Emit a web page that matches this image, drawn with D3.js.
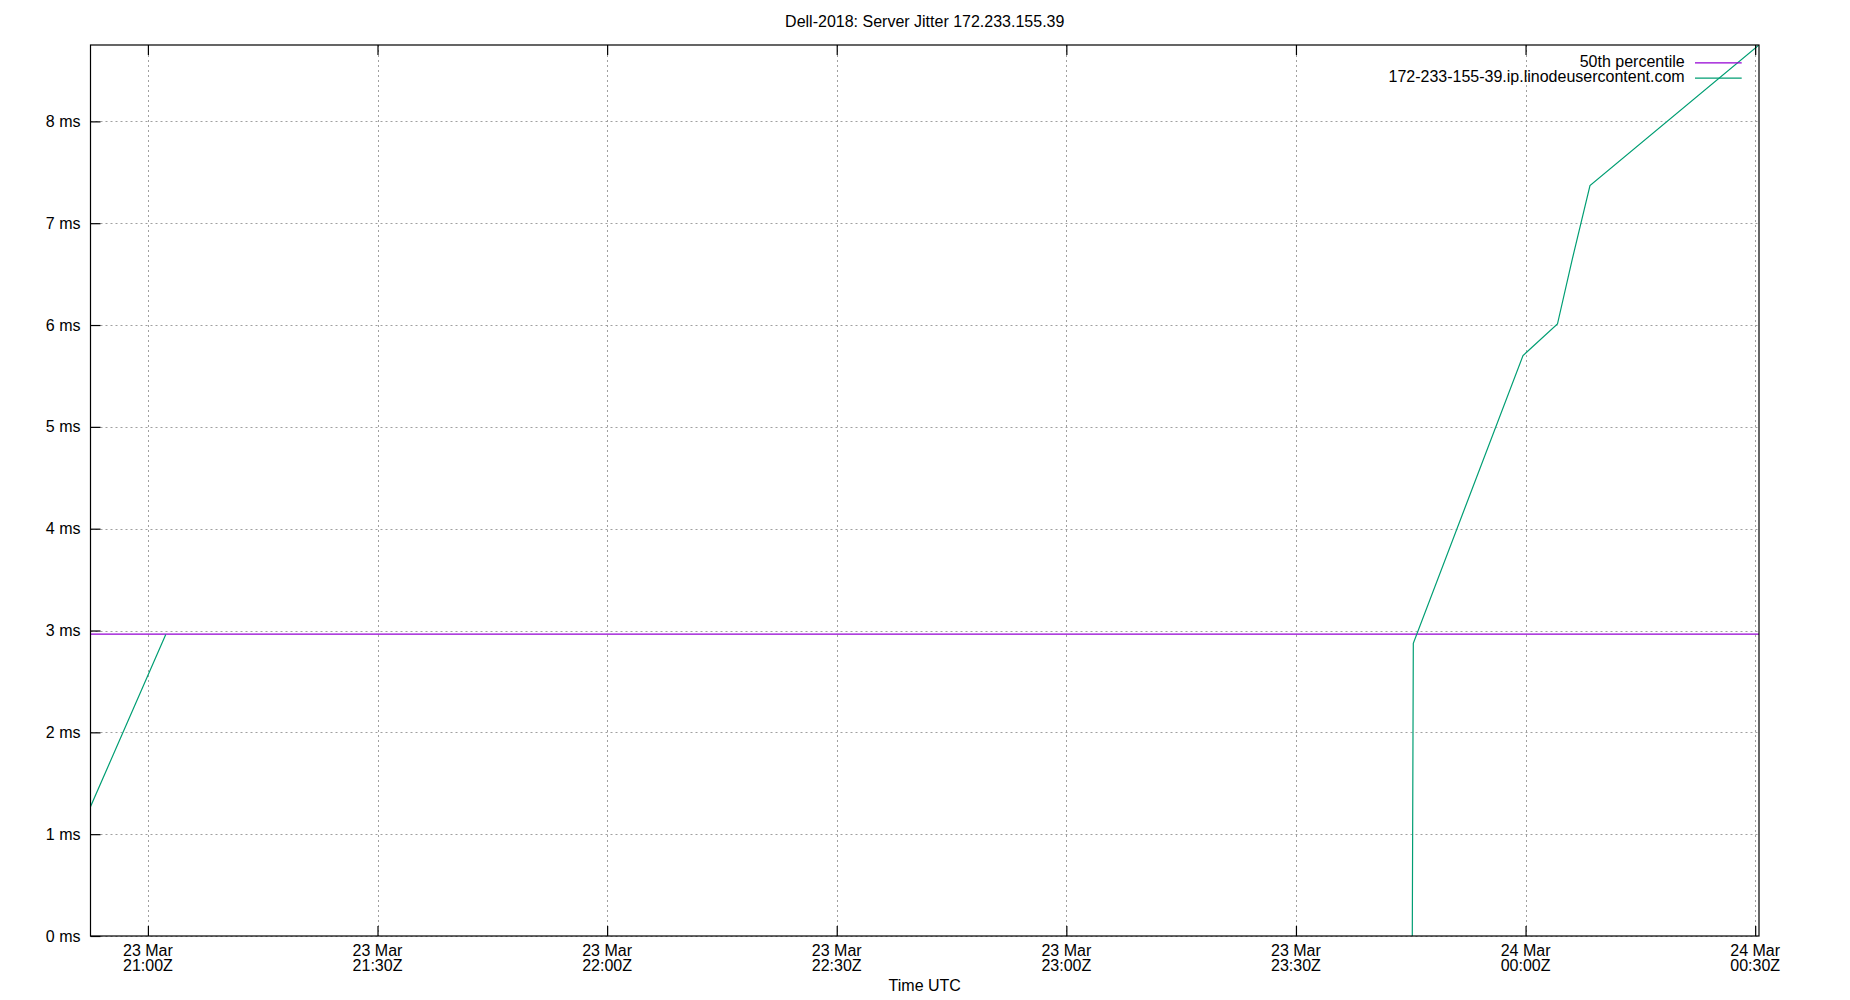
<!DOCTYPE html>
<html lang="en">

<head>
    <meta charset="UTF-8">
    <title>Server Jitter</title>
    <script src="https://d3js.org/d3.v7.min.js"></script>
    <style>
        body { margin: 0; background: #fff; }
        text { font-family: "Liberation Sans", Arial, sans-serif; font-size: 16px; fill: #000; }
    </style>
</head>

<body>
    <div id="my_dataviz"></div>

    <script type="text/javascript">

        // jitter samples (UTC), null = no data
        var sampleTimes = [
            "2024-03-23T20:52:30Z", "2024-03-23T21:02:20Z", "2024-03-23T22:30:00Z",
            "2024-03-23T23:45:12Z", "2024-03-23T23:45:20Z", "2024-03-23T23:59:40Z",
            "2024-03-24T00:04:10Z", "2024-03-24T00:06:05Z", "2024-03-24T00:08:25Z",
            "2024-03-24T00:30:30Z"
        ];
        var jitterMs = [1.27, 2.96, null, 0, 2.875, 5.70, 6.01, 6.64, 7.37, 8.75];

        var percentile50 = 2.965;

        var xTickTimes = [
            "2024-03-23T21:00:00Z", "2024-03-23T21:30:00Z", "2024-03-23T22:00:00Z",
            "2024-03-23T22:30:00Z", "2024-03-23T23:00:00Z", "2024-03-23T23:30:00Z",
            "2024-03-24T00:00:00Z", "2024-03-24T00:30:00Z"
        ];
        var yTicks = [0, 1, 2, 3, 4, 5, 6, 7, 8];

        var seriesNames = ["50th percentile", "172-233-155-39.ip.linodeusercontent.com"];
        var seriesColors = ["#9400d3", "#009e73"];

        var data = sampleTimes.map(function (t, i) { return { t: new Date(t), v: jitterMs[i] }; });
        var tickDates = xTickTimes.map(function (t) { return new Date(t); });

        // plot box (note: "top" is taken by window.top)
        var pLeft = 90.5, pRight = 1759, pTop = 45, pBottom = 936;

        var svg = d3.select("#my_dataviz")
            .append("svg")
            .attr("width", 1850)
            .attr("height", 1000);

        var x = d3.scaleUtc()
            .domain([data[0].t, data[data.length - 1].t])
            .range([pLeft, pRight]);

        var y = d3.scaleLinear()
            .domain([0, 8.75])
            .range([pBottom, pTop]);

        // grid
        var grid = svg.append("g")
            .attr("stroke", "#a0a0a0")
            .attr("stroke-width", 1)
            .attr("stroke-dasharray", "2,3");
        grid.selectAll(".gx").data(tickDates).enter().append("line")
            .attr("x1", function (d) { return Math.round(x(d)) + 0.5; })
            .attr("x2", function (d) { return Math.round(x(d)) + 0.5; })
            .attr("y1", pTop).attr("y2", pBottom);
        grid.selectAll(".gy").data(yTicks).enter().append("line")
            .attr("y1", function (d) { return Math.round(y(d)) + 0.5; })
            .attr("y2", function (d) { return Math.round(y(d)) + 0.5; })
            .attr("x1", pLeft).attr("x2", pRight);

        svg.append("clipPath").attr("id", "plotclip")
            .append("rect")
            .attr("x", pLeft).attr("y", pTop)
            .attr("width", pRight - pLeft).attr("height", pBottom - pTop);

        var plot = svg.append("g").attr("clip-path", "url(#plotclip)");

        // 50th percentile
        plot.append("line")
            .attr("x1", pLeft).attr("x2", pRight)
            .attr("y1", y(percentile50)).attr("y2", y(percentile50))
            .attr("stroke", seriesColors[0])
            .attr("stroke-width", 1.3);

        // jitter line
        plot.append("path")
            .datum(data)
            .attr("fill", "none")
            .attr("stroke", seriesColors[1])
            .attr("stroke-width", 1.2)
            .attr("d", d3.line()
                .defined(function (d) { return d.v !== null; })
                .x(function (d) { return x(d.t); })
                .y(function (d) { return y(d.v); })
            );

        // border
        svg.append("rect")
            .attr("x", pLeft).attr("y", pTop)
            .attr("width", pRight - pLeft).attr("height", pBottom - pTop)
            .attr("fill", "none")
            .attr("stroke", "#000")
            .attr("stroke-width", 1.2);

        // axes with inward ticks
        var fmtDay = d3.utcFormat("%d %b"), fmtTime = d3.utcFormat("%H:%MZ");

        var xBottom = svg.append("g")
            .attr("transform", "translate(0," + pBottom + ")")
            .call(d3.axisTop(x).tickValues(tickDates).tickSize(10).tickFormat(""));
        var xTop = svg.append("g")
            .attr("transform", "translate(0," + pTop + ")")
            .call(d3.axisBottom(x).tickValues(tickDates).tickSize(10).tickFormat(""));
        var yLeft = svg.append("g")
            .attr("transform", "translate(" + pLeft + ",0)")
            .call(d3.axisRight(y).tickValues(yTicks).tickSize(10).tickFormat(""));

        [xBottom, xTop, yLeft].forEach(function (g) {
            g.select(".domain").remove();
            g.selectAll("line").attr("stroke", "#000").attr("stroke-width", 1.2);
        });

        var xLabels = svg.append("g");
        tickDates.forEach(function (d) {
            var t = xLabels.append("text")
                .attr("text-anchor", "middle");
            t.append("tspan").attr("x", x(d)).attr("y", 955.5).text(fmtDay(d));
            t.append("tspan").attr("x", x(d)).attr("y", 970.5).text(fmtTime(d));
        });

        svg.append("g").selectAll("text").data(yTicks).enter().append("text")
            .attr("x", 80.5)
            .attr("y", function (d) { return y(d) + 5.5; })
            .attr("text-anchor", "end")
            .text(function (d) { return d + " ms"; });

        // title + axis label
        svg.append("text")
            .attr("x", (pLeft + pRight) / 2).attr("y", 26.5)
            .attr("text-anchor", "middle")
            .text("Dell-2018: Server Jitter 172.233.155.39");

        svg.append("text")
            .attr("x", (pLeft + pRight) / 2).attr("y", 991)
            .attr("text-anchor", "middle")
            .text("Time UTC");

        // legend
        var legend = svg.append("g");
        seriesNames.forEach(function (name, i) {
            var base = 66.7 + i * 15.3;
            legend.append("text")
                .attr("x", 1684.7).attr("y", base)
                .attr("text-anchor", "end")
                .text(name);
            legend.append("line")
                .attr("x1", 1695).attr("x2", 1741.7)
                .attr("y1", base - 3.8).attr("y2", base - 3.8)
                .attr("stroke", seriesColors[i])
                .attr("stroke-width", 1.2);
        });

    </script>

</body>

</html>
